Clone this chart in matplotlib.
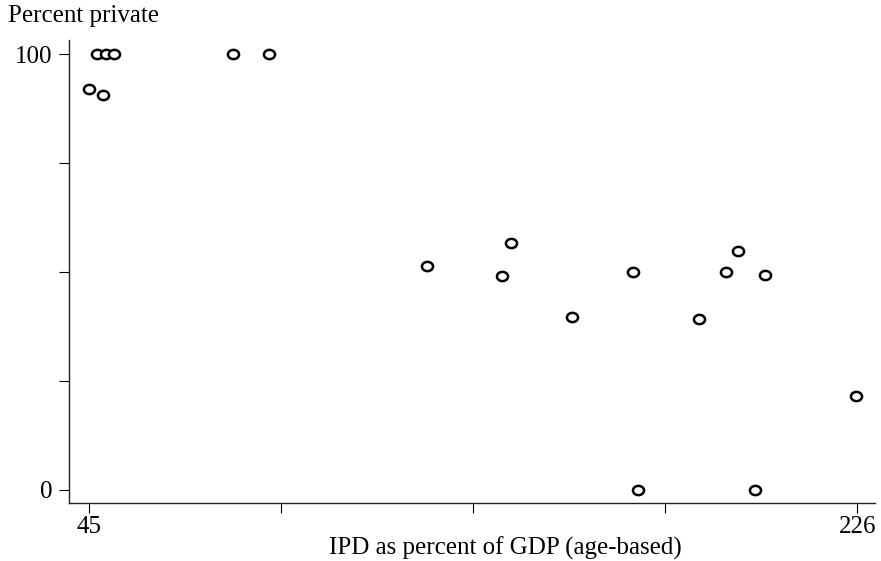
import numpy as np
import matplotlib
matplotlib.use("Agg")
import matplotlib.pyplot as plt
from matplotlib.path import Path
from matplotlib.transforms import Affine2D

# IPD as percent of GDP (age-based) vs percent private
ipd = [45.1, 48.4, 47.0, 49.0, 51.0, 79.0, 87.4,
       124.6, 142.3, 144.5, 158.8, 173.3, 174.4, 188.8,
       195.0, 198.0, 202.0, 204.2, 225.8]
pct_private = [92.0, 90.6, 100, 100, 100, 100, 100,
               51.3, 49.0, 56.6, 39.7, 50.0, 0, 39.2,
               50.0, 54.8, 0, 49.3, 21.4]

xticks = [45, 90.25, 135.5, 180.75, 226]
xticklabels = ["45", "", "", "", "226"]
yticks = [0, 25, 50, 75, 100]
yticklabels = ["0", "", "", "", "100"]

plt.rcParams['font.family'] = ['Liberation Serif', 'DejaVu Serif']
fs = 18

# slightly wide hollow circle, like the printed symbols
oval = Path.unit_circle().transformed(Affine2D().scale(1.2, 1.0))

fig = plt.figure(figsize=(8.81, 5.61), dpi=100)
ax = fig.add_axes([69/881, 1 - 503/561, 806/881, 463/561])

ax.plot(ipd, pct_private, linestyle='none', marker=oval, markersize=8,
        markerfacecolor='white', markeredgecolor='black', markeredgewidth=1.8)

ax.set_xlim(40.3, 230.2)
ax.set_ylim(-3.1, 103.3)
ax.set_xticks(xticks)
ax.set_xticklabels(xticklabels)
ax.set_yticks(yticks)
ax.set_yticklabels(yticklabels)

for s in ['top', 'right']:
    ax.spines[s].set_visible(False)
for s in ['left', 'bottom']:
    ax.spines[s].set_linewidth(1.0)
    ax.spines[s].set_color('#222222')

ax.tick_params(axis='y', length=7, width=0.8, pad=5, labelsize=fs)
ax.tick_params(axis='x', length=7, width=0.8, pad=2.5, labelsize=fs)

fig.text(8/881, 1 - 16/561, "Percent private", ha='left', va='center', fontsize=fs)
fig.text(505/881, 1 - 548/561, "IPD as percent of GDP (age-based)",
         ha='center', va='center', fontsize=fs)

fig.savefig("out.png", dpi=100)
